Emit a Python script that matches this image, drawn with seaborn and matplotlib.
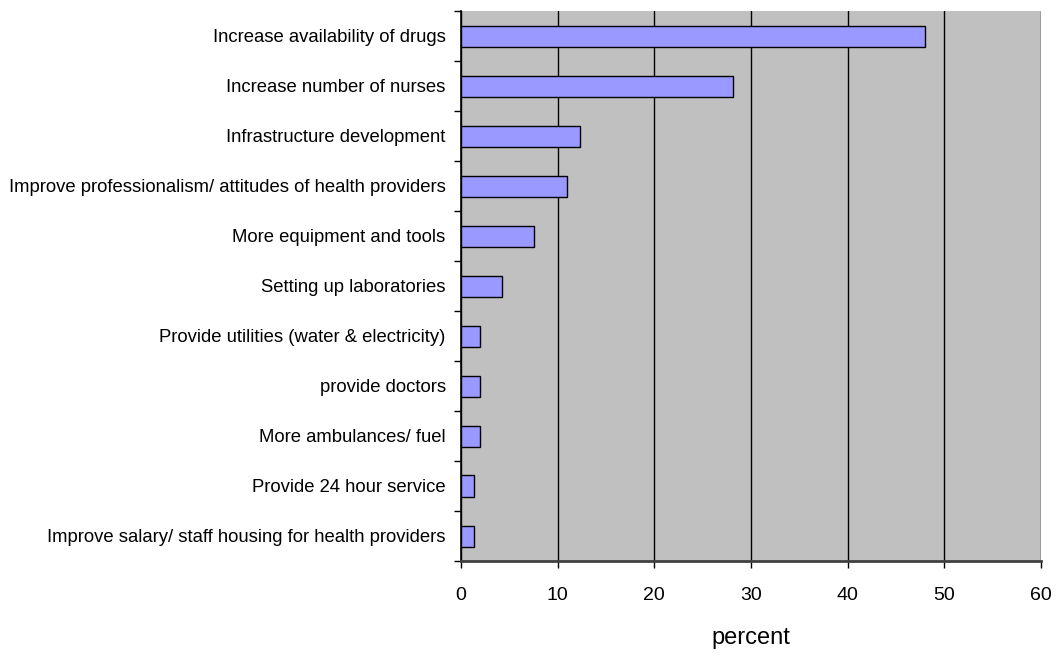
import matplotlib
matplotlib.use("Agg")
import matplotlib.pyplot as plt
from matplotlib import font_manager
import seaborn as sns
import pandas as pd
import numpy as np

categories = [
    "Increase availability of drugs",
    "Increase number of nurses",
    "Infrastructure development",
    "Improve professionalism/ attitudes of health providers",
    "More equipment and tools",
    "Setting up laboratories",
    "Provide utilities (water & electricity)",
    "provide doctors",
    "More ambulances/ fuel",
    "Provide 24 hour service",
    "Improve salary/ staff housing for health providers",
]
percent = [48.0, 28.1, 12.3, 11.0, 7.5, 4.2, 2.0, 2.0, 2.0, 1.3, 1.3]
x_ticks = [0, 10, 20, 30, 40, 50, 60]

sns.set_theme(style="white")
names = {f.name for f in font_manager.fontManager.ttflist}
family = "Liberation Sans Narrow" if "Liberation Sans Narrow" in names else "Liberation Sans"
plt.rcParams["font.family"] = [family, "DejaVu Sans"]
plt.rcParams["text.color"] = "black"
plt.rcParams["axes.labelcolor"] = "black"
plt.rcParams["xtick.color"] = "black"
plt.rcParams["ytick.color"] = "black"

df = pd.DataFrame({"category": categories, "percent": percent})

fig = plt.figure(figsize=(10.56, 6.53), dpi=100)
ax = fig.add_axes([461 / 1056, 1 - 561 / 653, 580 / 1056, 550 / 653])
ax.set_facecolor("#C0C0C0")

sns.barplot(data=df, x="percent", y="category", orient="h", color="#9999FF",
            edgecolor="black", linewidth=1.0, width=0.42, saturation=1, ax=ax)

ax.set_xlim(0, 60)
ax.set_ylim(len(categories) - 0.5, -0.5)
ax.set_xticks(x_ticks)
ax.set_xticklabels([str(t) for t in x_ticks], fontsize=14, color="black")
ax.set_axisbelow(True)
ax.xaxis.grid(True, color="black", linewidth=1.0)
ax.yaxis.grid(False)

# category separators as small outward ticks on the left
ax.set_yticks(np.arange(len(categories)))
ax.set_yticklabels(categories, fontsize=13.3, color="black")
ax.tick_params(axis="y", which="major", length=0, pad=11)
ax.set_yticks(np.arange(len(categories) + 1) - 0.5, minor=True)
ax.tick_params(axis="y", which="minor", length=5, width=1, color="black", left=True)
ax.tick_params(axis="x", which="major", length=5, width=1, color="black", bottom=True, pad=14)

for side in ["top", "right"]:
    ax.spines[side].set_visible(False)
ax.spines["left"].set_color("black")
ax.spines["left"].set_linewidth(1.2)
ax.spines["bottom"].set_color("#404040")
ax.spines["bottom"].set_linewidth(2)

ax.set_ylabel("")
ax.set_xlabel("percent", fontsize=17, labelpad=16, color="black")

fig.savefig("out.png", dpi=100, facecolor="white")
